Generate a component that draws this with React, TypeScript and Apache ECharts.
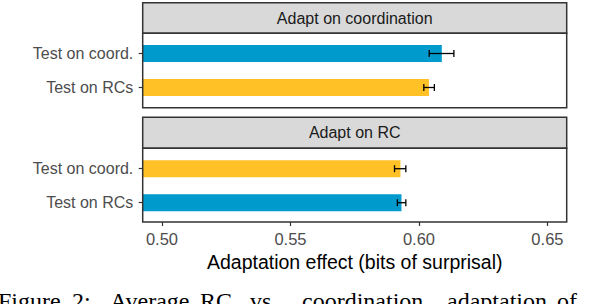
import React, { useEffect, useRef } from "react";
import * as echarts from "echarts";

// ---- data ----
const categories = ["Test on coord.", "Test on RCs"];
const panelTitles = ["Adapt on coordination", "Adapt on RC"];

// Panel 1: Adapt on coordination
const coordMeans = [0.6089, 0.6039];
const coordLower = [0.604, 0.6019];
const coordUpper = [0.6136, 0.606];
const coordColors = ["#009ACD", "#FFC125"];

// Panel 2: Adapt on RC
const rcMeans = [0.5928, 0.5932];
const rcLower = [0.5905, 0.5916];
const rcUpper = [0.5949, 0.5949];
const rcColors = ["#FFC125", "#009ACD"];

const xTicks = [0.5, 0.55, 0.6, 0.65];
const xMin = 0.4925;
const xMax = 0.6575;

const xTitle = "Adaptation effect (bits of surprisal)";
const captionWords = ["Figure", "2:", "Average", "RC", "vs.", "coordination", "adaptation", "of"];
const captionX = [-2, 72, 110, 200, 250, 302, 447, 557];

// ---- layout ----
const W = 594;
const H = 304;
const PL = 142.7;
const PR = 566.7;
const panels = [
  { top: 2.7, stripBottom: 33.3, bottom: 107.7, gridTop: 36.5 },
  { top: 117.3, stripBottom: 148.3, bottom: 222, gridTop: 151.7 },
];
const GRID_H = 68;
const FONT = "'Liberation Sans', Arial, Helvetica, sans-serif";

export default function App() {
  const ref = useRef<HTMLDivElement>(null);

  useEffect(() => {
    if (!ref.current) return;
    const chart = echarts.init(ref.current, undefined, { renderer: "svg" });

    const errRender = (params: any, api: any) => {
      const y = api.value(2);
      const p1 = api.coord([api.value(0), y]);
      const p2 = api.coord([api.value(1), y]);
      const h = 3.5;
      const style = { stroke: "#000000", lineWidth: 1.3 };
      return {
        type: "group",
        children: [
          { type: "line", shape: { x1: p1[0], y1: p1[1], x2: p2[0], y2: p2[1] }, style },
          { type: "line", shape: { x1: p1[0], y1: p1[1] - h, x2: p1[0], y2: p1[1] + h }, style },
          { type: "line", shape: { x1: p2[0], y1: p2[1] - h, x2: p2[0], y2: p2[1] + h }, style },
        ],
      };
    };

    const means = [coordMeans, rcMeans];
    const lowers = [coordLower, rcLower];
    const uppers = [coordUpper, rcUpper];
    const colors = [coordColors, rcColors];

    const grids = panels.map((p) => ({
      left: PL,
      width: PR - PL,
      top: p.gridTop,
      height: GRID_H,
      containLabel: false,
    }));

    const xAxes = panels.map((p, i) => ({
      type: "value",
      gridIndex: i,
      min: xMin,
      max: xMax,
      show: i === 1,
      offset: i === 1 ? p.bottom - (p.gridTop + GRID_H) : 0,
      splitLine: { show: false },
      axisLine: { show: false },
      axisTick: {
        show: true,
        length: 4,
        customValues: xTicks,
        lineStyle: { color: "#333333", width: 1.2 },
      },
      axisLabel: {
        show: true,
        customValues: xTicks,
        formatter: (v: number) => v.toFixed(2),
        fontSize: 16.5,
        fontFamily: FONT,
        color: "#4D4D4D",
        margin: 8,
      },
      name: i === 1 ? xTitle : "",
      nameLocation: "middle",
      nameGap: 30,
      nameTextStyle: { fontSize: 19.5, fontFamily: FONT, color: "#000000" },
    }));

    const yAxes = panels.map((_, i) => ({
      type: "category",
      gridIndex: i,
      data: categories,
      inverse: true,
      axisLine: { show: false },
      axisTick: { show: true, length: 4, alignWithLabel: true, lineStyle: { color: "#333333", width: 1.2 } },
      axisLabel: { fontSize: 16, fontFamily: FONT, color: "#4D4D4D", margin: 9.4 },
      splitLine: { show: false },
    }));

    const series: any[] = [];
    panels.forEach((_, i) => {
      series.push({
        type: "bar",
        xAxisIndex: i,
        yAxisIndex: i,
        barWidth: "50%",
        data: means[i].map((v, k) => ({ value: v, itemStyle: { color: colors[i][k] } })),
      });
      series.push({
        type: "custom",
        xAxisIndex: i,
        yAxisIndex: i,
        renderItem: errRender,
        encode: { x: [0, 1], y: 2 },
        data: categories.map((c, k) => [lowers[i][k], uppers[i][k], c]),
        z: 5,
      });
    });

    const graphics: any[] = [];
    panels.forEach((p, i) => {
      graphics.push({
        type: "rect",
        shape: { x: PL, y: p.top, width: PR - PL, height: p.stripBottom - p.top },
        style: { fill: "#D9D9D9", stroke: "#333333", lineWidth: 1.5 },
        z: 10,
      });
      graphics.push({
        type: "rect",
        shape: { x: PL, y: p.stripBottom, width: PR - PL, height: p.bottom - p.stripBottom },
        style: { fill: "none", stroke: "#333333", lineWidth: 1.5 },
        z: 10,
      });
      graphics.push({
        type: "text",
        x: (PL + PR) / 2,
        y: (p.top + p.stripBottom) / 2,
        style: {
          text: panelTitles[i],
          font: `16px ${FONT}`,
          fill: "#1A1A1A",
          textAlign: "center",
          textVerticalAlign: "middle",
        },
        z: 11,
      });
    });
    captionWords.forEach((w, k) => {
      graphics.push({
        type: "text",
        x: captionX[k],
        y: 300.5,
        style: {
          text: w,
          font: `24px 'Liberation Serif', 'Times New Roman', serif`,
          fill: "#000000",
          textAlign: "left",
          textVerticalAlign: "middle",
        },
        z: 11,
      });
    });

    chart.setOption({
      animation: false,
      backgroundColor: "#FFFFFF",
      grid: grids,
      xAxis: xAxes,
      yAxis: yAxes,
      series,
      graphic: graphics,
    } as any);

    return () => chart.dispose();
  }, []);

  return (
    <div
      ref={ref}
      style={{ position: "fixed", left: 0, top: 0, width: W, height: H, background: "#FFFFFF" }}
    />
  );
}
